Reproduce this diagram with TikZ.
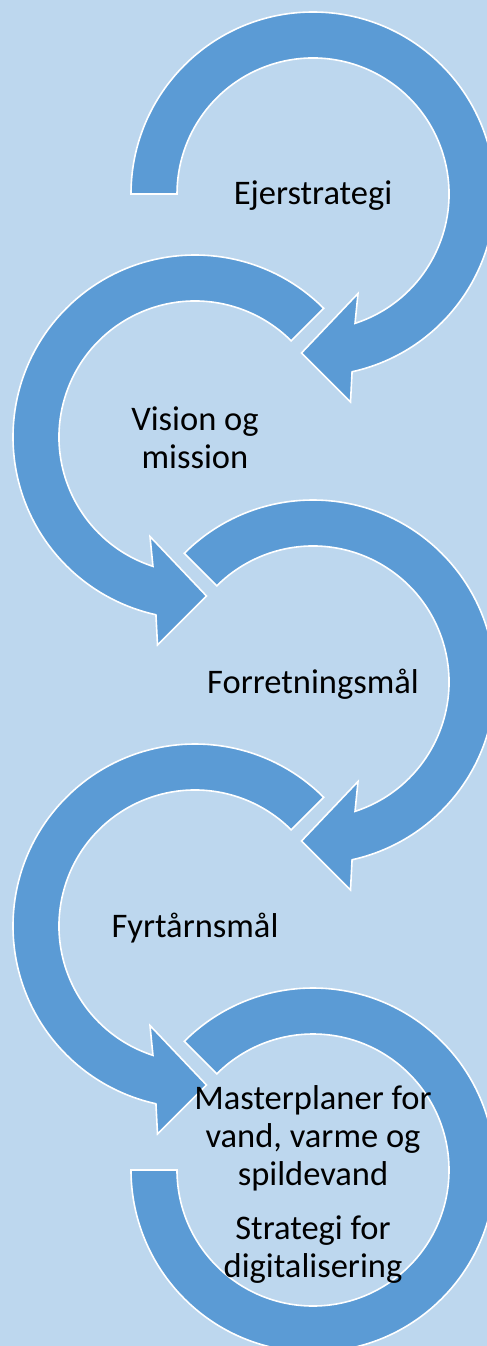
\documentclass[tikz,border=0pt]{standalone}
\usepackage{fontspec}
\setmainfont{Carlito}
\definecolor{bgblue}{HTML}{BDD7EE}
\definecolor{arrblue}{HTML}{5B9BD5}
\tikzset{
  arr/.style={fill=arrblue, draw=white, line width=1.6pt, line join=miter},
  lbl/.style={font=\fontsize{34.5}{37.8}\selectfont, align=center, text=black, inner sep=0pt, anchor=base}
}
\begin{document}
\begin{tikzpicture}[x=1pt,y=1pt]
\useasboundingbox (0,0) rectangle (487,-1346);
\fill[bgblue] (0,0) rectangle (487,-1346);
\begin{scope}
\clip (0,0) rectangle (487,-1346);
% arrow 1
\begin{scope}[shift={(313,-194)}]
\path[arr] (180:182) arc[start angle=180,end angle=-77.6,radius=182] -- (37.5,-208) -- (-11.5,-159) -- (45,-99.5) -- (-72:136) arc[start angle=-72,end angle=180,radius=136] -- cycle;
\end{scope}
% arrow 2
\begin{scope}[shift={(195,-437)}]
\path[arr] (45:182) arc[start angle=45,end angle=257.6,radius=182] -- (-37.5,-208) -- (11.5,-159) -- (-45,-99.5) -- (252:136) arc[start angle=252,end angle=45,radius=136] -- cycle;
\end{scope}
% arrow 3
\begin{scope}[shift={(313,-682)}]
\path[arr] (135:182) arc[start angle=135,end angle=-77.6,radius=182] -- (37.5,-208) -- (-11.5,-159) -- (45,-99.5) -- (-72:136) arc[start angle=-72,end angle=135,radius=136] -- cycle;
\end{scope}
% arrow 4
\begin{scope}[shift={(195,-926)}]
\path[arr] (45:182) arc[start angle=45,end angle=257.6,radius=182] -- (-37.5,-208) -- (11.5,-159) -- (-45,-99.5) -- (252:136) arc[start angle=252,end angle=45,radius=136] -- cycle;
\end{scope}
% arrow 5
\begin{scope}[shift={(313,-1170)}]
\path[arr] (135:182) arc[start angle=135,end angle=-180,radius=182] -- (180:136) arc[start angle=180,end angle=495,radius=136] -- cycle;
\end{scope}
\end{scope}
\node[lbl] (t1) at (313,-204) {Ejerstrategi};
\node[lbl] (t2) at (195,-468) {Vision og\\mission};
\node[lbl] (t3) at (313,-693) {Forretningsmål};
\node[lbl] (t4) at (195,-937) {Fyrtårnsmål};
\node[lbl] (t5) at (313,-1185) {Masterplaner for\\vand, varme og\\spildevand};
\node[lbl] (t6) at (313,-1277) {Strategi for\\digitalisering};
\end{tikzpicture}
\end{document}
